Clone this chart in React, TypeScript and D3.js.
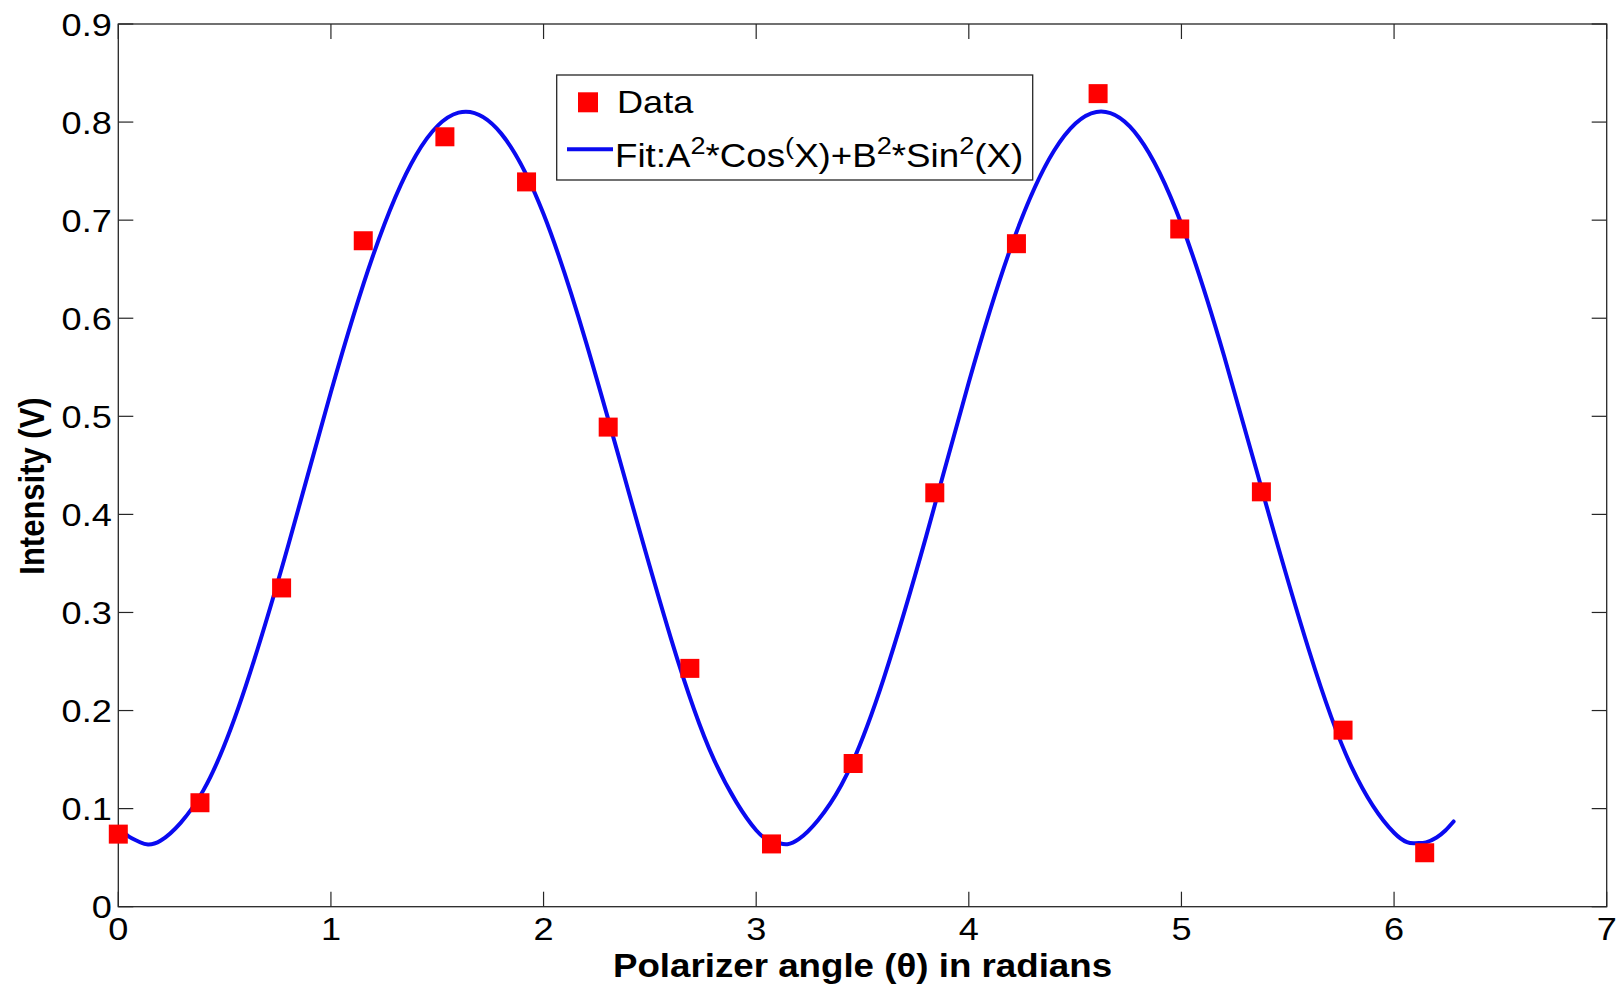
import React from 'react';
import * as d3 from 'd3';

// Measured data points (polarizer angle in radians, intensity in V)
const dataX = [0, 0.384, 0.768, 1.152, 1.536, 1.92, 2.304, 2.688, 3.072, 3.456, 3.84, 4.224, 4.608, 4.992, 5.376, 5.76, 6.144];
const dataY = [0.074, 0.106, 0.325, 0.679, 0.785, 0.739, 0.489, 0.243, 0.064, 0.146, 0.422, 0.676, 0.829, 0.691, 0.423, 0.18, 0.055];

// Fit curve
const fitX = [0, 0.05, 0.1, 0.2, 0.4, 0.6, 0.8, 1.0, 1.2, 1.4, 1.6, 1.8, 2.0, 2.2, 2.4, 2.6, 2.8, 3.0, 3.1, 3.2, 3.4, 3.6, 3.8, 4.0, 4.2, 4.4, 4.6, 4.8, 5.0, 5.2, 5.4, 5.6, 5.8, 6.0, 6.1, 6.15, 6.2, 6.24, 6.28];
const fitY = [0.081, 0.0714, 0.066, 0.0675, 0.1186, 0.2254, 0.369, 0.5248, 0.6652, 0.7662, 0.8096, 0.7885, 0.7062, 0.5754, 0.4231, 0.2729, 0.1507, 0.078, 0.0652, 0.0689, 0.1238, 0.2329, 0.3781, 0.5347, 0.6736, 0.7705, 0.8103, 0.7843, 0.696, 0.562, 0.4087, 0.2612, 0.1426, 0.0754, 0.0648, 0.0656, 0.0706, 0.0774, 0.0869];

const xTicks = [0, 1, 2, 3, 4, 5, 6, 7];
const yTicks = [0, 0.1, 0.2, 0.3, 0.4, 0.5, 0.6, 0.7, 0.8, 0.9];

const W = 1621;
const H = 990;
const L = 118.3, R = 1606.7, T = 24, B = 906.7;
const SX = 1.13; // horizontal text stretch
const FONT = "'Liberation Sans', Arial, Helvetica, sans-serif";

export default function App() {
  const x = d3.scaleLinear().domain([0, 7]).range([L, R]);
  const y = d3.scaleLinear().domain([0, 0.9]).range([B, T]);
  const line = d3
    .line<number>()
    .x((_, i) => x(fitX[i]))
    .y((d) => y(d))
    .curve(d3.curveNatural);
  const tickLen = 15;
  const axisColor = '#262626';
  const ms = 19;
  const blue = '#0a0af0';

  return (
    <svg width={W} height={H} style={{ position: 'absolute', left: 0, top: 0, background: '#fff' }} fontFamily={FONT}>
      <rect x={0} y={0} width={W} height={H} fill="#fff" />
      {/* plot box */}
      <rect x={L} y={T} width={R - L} height={B - T} fill="none" stroke={axisColor} strokeWidth={1.3} />
      {/* x ticks */}
      {xTicks.map((t) => (
        <g key={'xt' + t}>
          <line x1={x(t)} x2={x(t)} y1={B} y2={B - tickLen} stroke={axisColor} strokeWidth={1.2} />
          <line x1={x(t)} x2={x(t)} y1={T} y2={T + tickLen} stroke={axisColor} strokeWidth={1.2} />
          <text transform={`translate(${x(t)},${940}) scale(${SX},1)`} textAnchor="middle" fontSize={32} fill="#000">
            {t}
          </text>
        </g>
      ))}
      {/* y ticks */}
      {yTicks.map((t) => (
        <g key={'yt' + t}>
          <line x1={L} x2={L + tickLen} y1={y(t)} y2={y(t)} stroke={axisColor} strokeWidth={1.2} />
          <line x1={R} x2={R - tickLen} y1={y(t)} y2={y(t)} stroke={axisColor} strokeWidth={1.2} />
          <text transform={`translate(${L - 6.5},${y(t) + 11.5}) scale(${SX},1)`} textAnchor="end" fontSize={32} fill="#000">
            {t === 0 ? '0' : t.toFixed(1)}
          </text>
        </g>
      ))}
      {/* fit curve */}
      <path d={line(fitY) || ''} fill="none" stroke={blue} strokeWidth={4} strokeLinejoin="round" strokeLinecap="round" />
      {/* data markers */}
      {dataY.map((v, i) => (
        <rect key={'m' + i} x={x(dataX[i]) - ms / 2} y={y(v) - ms / 2} width={ms} height={ms} fill="#ff0000" />
      ))}
      {/* axis labels */}
      <text transform={`translate(${(L + R) / 2},${977}) scale(${SX},1)`} textAnchor="middle" fontSize={32.5} fontWeight="bold" fill="#000">
        Polarizer angle (θ) in radians
      </text>
      <text transform={`translate(${44},${486}) rotate(-90) scale(1,${SX})`} textAnchor="middle" fontSize={31} fontWeight="bold" fill="#000">
        Intensity (V)
      </text>
      {/* legend */}
      <rect x={556.7} y={75} width={476} height={105} fill="#fff" stroke={axisColor} strokeWidth={1.3} />
      <rect x={588 - 10} y={102.3 - 10} width={20} height={20} fill="#ff0000" />
      <line x1={567} x2={613} y1={149.3} y2={149.3} stroke={blue} strokeWidth={4} />
      <text transform={`translate(${617},${113}) scale(${SX},1)`} fontSize={32} fill="#000">
        Data
      </text>
      <text transform={`translate(${615},${166.7}) scale(${SX},1)`} fontSize={32.5} fill="#000">
        <tspan>Fit:A</tspan>
        <tspan fontSize={24} dy={-13}>2</tspan>
        <tspan dy={13}>*Cos</tspan>
        <tspan fontSize={24} dy={-13}>(</tspan>
        <tspan dy={13}>X)+B</tspan>
        <tspan fontSize={24} dy={-13}>2</tspan>
        <tspan dy={13}>*Sin</tspan>
        <tspan fontSize={24} dy={-13}>2</tspan>
        <tspan dy={13}>(X)</tspan>
      </text>
    </svg>
  );
}
